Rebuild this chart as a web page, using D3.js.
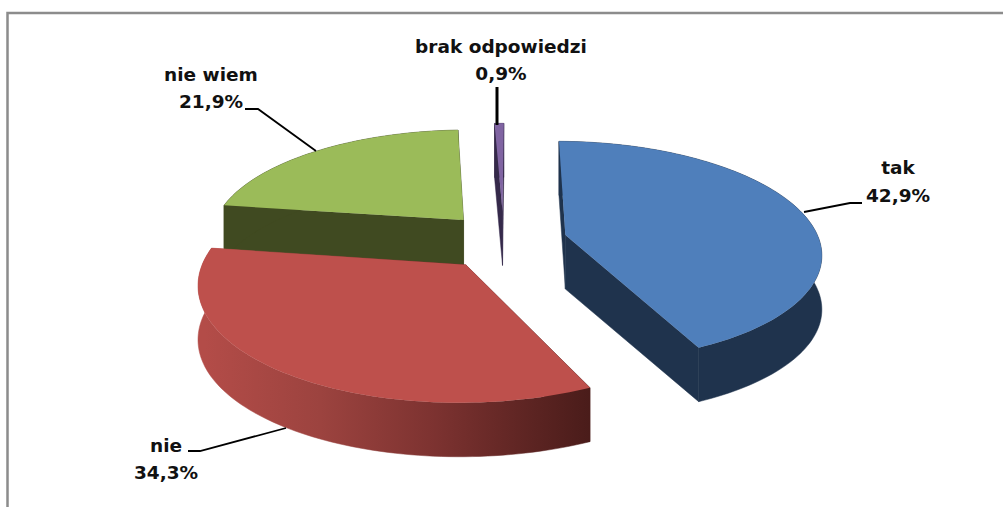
<!DOCTYPE html>
<html><head><meta charset="utf-8">
<script src="https://cdn.jsdelivr.net/npm/d3@7"></script>
<style>html,body{margin:0;padding:0;background:#fff;overflow:hidden}svg{display:block}
text{font-family:"DejaVu Sans";font-weight:bold;font-size:18.5px;fill:#111;text-anchor:middle}</style>
</head><body><svg id="c" width="1003" height="507"></svg>
<script>
const categories = ["tak","nie","nie wiem","brak odpowiedzi"];
const values = [42.9,34.3,21.9,0.9];
const valueLabels = ["42,9%","34,3%","21,9%","0,9%"];
const topColors = ["#4F7FBB","#BE504C","#9BBB59","#8064A2"];
const wallColors = ["#1F334D","url(#redWall)","#404A21","#35294A"];
const explode = [0.25,0.24,0.29,0.30];
const nudgeX = [0.006,0.012,0.046,0.012];
const nudgeY = [0.02,0,0,0];
const radiusX = [0.98,0.985,0.985,0.75];
const drawOrder = [3,2,0,1];
const labelAnchors = [[898,174],[166,452],[211,81],[501,53]];
const labelGaps = [28,27,27,27];
const leaders = [[[804,212],[850,203],[862,203]],[[286,428],[200,451],[188,451]],[[316,151],[258,109],[245,109]],[[497,125],[497,87]]];

const svg = d3.select("#c");
const P = 0.15, DEPTH = 54, ROT = 0.5*Math.PI/180;
const sx = d3.scaleLinear().domain([0,1]).range([501,761]);
const sy = d3.scaleLinear().domain([0,1]).range([243,133]);
const project = (X,Y,drop=0)=>{const s=1/(1+P*Y);return [sx(X*s),sy(Y*s)+drop];};
const pieGen = d3.pie().value(d=>d).sort(null).startAngle(ROT).endAngle(2*Math.PI+ROT);
const arcs = pieGen(values);
const line = d3.line();

const defs = svg.append("defs");
const grad = defs.append("linearGradient").attr("id","redWall").attr("gradientUnits","userSpaceOnUse")
  .attr("x1",205).attr("x2",590).attr("y1",0).attr("y2",0);
[[0,"#B34C48"],[0.3,"#9C433F"],[0.6,"#7C3230"],[0.85,"#5C2422"],[1,"#4A1C1A"]]
  .forEach(([o,c])=>grad.append("stop").attr("offset",o).attr("stop-color",c));

// chart frame: left and top edges only
svg.append("path").attr("d",line([[7.5,507],[7.5,13],[1003,13]])).attr("fill","none").attr("stroke","#8C8C8C").attr("stroke-width",2.5);

drawOrder.forEach(i=>{
  const a = arcs[i], mid=(a.startAngle+a.endAngle)/2;
  const ox=Math.sin(mid)*explode[i]+nudgeX[i], oy=Math.cos(mid)*explode[i]+nudgeY[i];
  const n=Math.max(4,Math.ceil((a.endAngle-a.startAngle)*40));
  const rim=d3.range(n+1).map(k=>{const t=a.startAngle+(a.endAngle-a.startAngle)*k/n;return [ox+Math.sin(t)*radiusX[i],oy+Math.cos(t)];});
  const apex=[ox,oy];
  const g=svg.append("g");
  const wall=(pts)=>{
    const top=pts.map(p=>project(p[0],p[1]));
    const bot=pts.map(p=>project(p[0],p[1],DEPTH)).reverse();
    g.append("path").attr("d",line(top.concat(bot))+"Z").attr("fill",wallColors[i]).attr("stroke",wallColors[i]).attr("stroke-width",0.5);
  };
  wall([apex,rim[0]]);
  wall([apex,rim[n]]);
  wall(rim);
  const face=[apex].concat(rim).map(p=>project(p[0],p[1]));
  g.append("path").attr("d",line(face)+"Z").attr("fill",topColors[i]);
});

leaders.forEach((l,i)=>{
  svg.append("path").attr("d",line(l)).attr("fill","none").attr("stroke","#000").attr("stroke-width",i===3?3:1.8);
});
categories.forEach((c,i)=>{
  const [x,y]=labelAnchors[i];
  svg.append("text").attr("x",x).attr("y",y).text(c);
  svg.append("text").attr("x",x).attr("y",y+labelGaps[i]).text(valueLabels[i]);
});
</script></body></html>
